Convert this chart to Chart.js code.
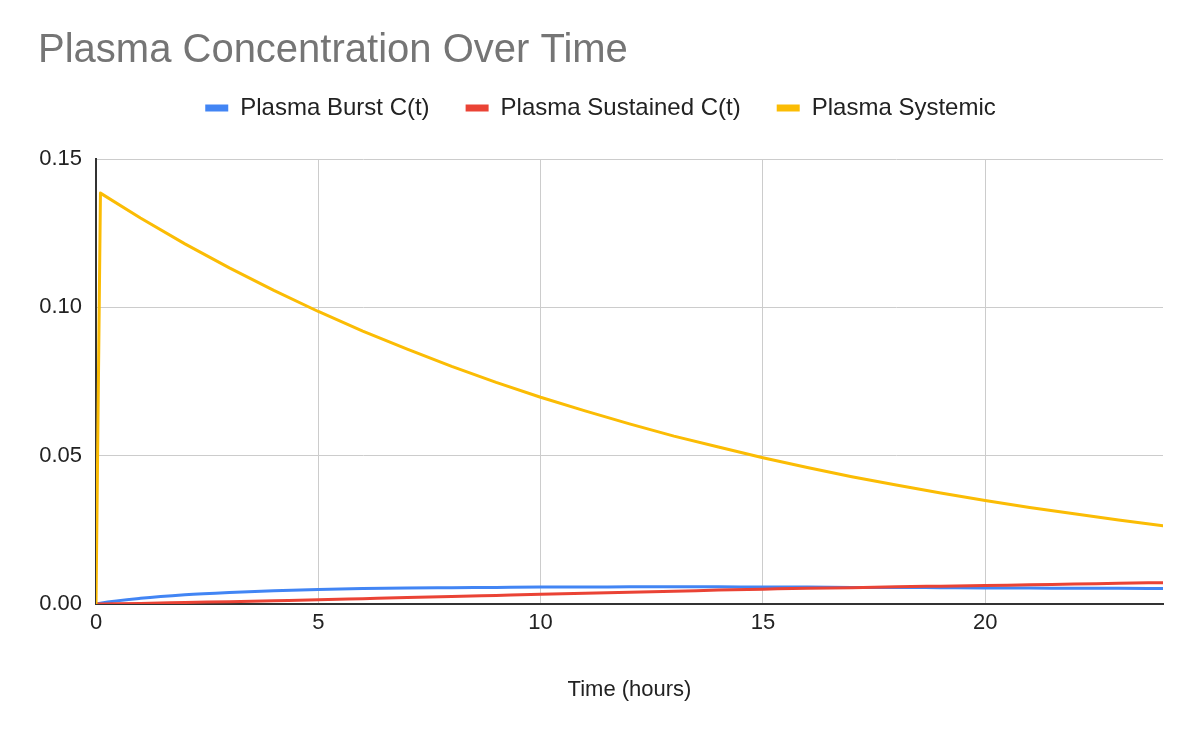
<!DOCTYPE html>
<html>
<head>
<meta charset="utf-8">
<script src="https://cdn.jsdelivr.net/npm/chart.js@4/dist/chart.umd.min.js"></script>
<style>
  html, body { margin: 0; padding: 0; background: #fff; }
  #wrap { width: 1192px; height: 738px; position: relative; }
</style>
</head>
<body>
<div id="wrap"><canvas id="chart"></canvas></div>
<script>
// Time points (hours)
const hours = [0, 0.1, 1, 2, 3, 4, 5, 6, 7, 8, 9, 10, 11, 12, 13, 14, 15, 16, 17, 18, 19, 20, 21, 22, 23, 24];

// Values
const burst = [0, 0.0003, 0.0019, 0.0031, 0.0039, 0.0045, 0.0049, 0.0052, 0.0054, 0.0055, 0.0056, 0.0057, 0.0057,
    0.0058, 0.0058, 0.0058, 0.0057, 0.0057, 0.0056, 0.0056, 0.0055, 0.0054, 0.0054, 0.0053, 0.0053, 0.0052];
const sustained = [0, 0.00002, 0.0002, 0.0005, 0.0008, 0.0011, 0.0014, 0.0018, 0.0022, 0.0025, 0.0029, 0.0033, 0.0036,
    0.0040, 0.0043, 0.0047, 0.0050, 0.0053, 0.0055, 0.0058, 0.0060, 0.0062, 0.0065, 0.0067, 0.0070, 0.0072];
const systemic = [0, 0.1385, 0.1301, 0.1214, 0.1133, 0.1057, 0.0986, 0.0920, 0.0859, 0.0801, 0.0747, 0.0697, 0.0651,
    0.0607, 0.0566, 0.0529, 0.0493, 0.0460, 0.0429, 0.0401, 0.0374, 0.0349, 0.0325, 0.0304, 0.0283, 0.0264];

const seriesNames = ['Plasma Burst C(t)', 'Plasma Sustained C(t)', 'Plasma Systemic'];
const seriesColors = ['#4285f4', '#ea4335', '#fbbc04'];
const yTicks = [0, 0.05, 0.10, 0.15];
const xTicks = [0, 5, 10, 15, 20];

const FONT = "'Liberation Sans', Arial, Helvetica, sans-serif";
Chart.defaults.font.family = FONT;
Chart.defaults.color = '#222';

function toPoints(values) {
    return values.map((v, i) => ({ x: hours[i], y: v }));
}

function makeSet(idx, values, smooth) {
    return {
        label: seriesNames[idx],
        data: toPoints(values),
        borderColor: seriesColors[idx],
        backgroundColor: seriesColors[idx],
        borderWidth: 3,
        pointRadius: 0,
        pointHoverRadius: 0,
        tension: 0,
        cubicInterpolationMode: smooth ? 'monotone' : 'default',
        borderJoinStyle: 'round',
        borderCapStyle: 'round',
        fill: false,
        // later series sit on top, like the original
        order: 2 - idx
    };
}

// legend needs extra room below it
const legendSpace = {
    id: 'legendSpace',
    beforeInit(chart) {
        const fit = chart.legend.fit;
        chart.legend.fit = function () {
            fit.bind(chart.legend)();
            this.height += 29;
        };
    }
};

new Chart(document.getElementById('chart'), {
    type: 'line',
    data: {
        datasets: [makeSet(0, burst, true), makeSet(1, sustained, true), makeSet(2, systemic, false)]
    },
    options: {
        responsive: true,
        maintainAspectRatio: false,
        animation: false,
        layout: { padding: { left: 38, right: 29, top: 0, bottom: 0 } },
        plugins: {
            title: {
                display: true,
                text: 'Plasma Concentration Over Time',
                align: 'start',
                color: '#757575',
                font: { size: 40, weight: 'normal' },
                padding: { top: 27, bottom: -15 }
            },
            legend: {
                position: 'top',
                labels: {
                    boxWidth: 23,
                    boxHeight: 7,
                    padding: 36,
                    color: '#222',
                    font: { size: 24 },
                    generateLabels: chart => Chart.defaults.plugins.legend.labels.generateLabels(chart)
                        .map(item => ({ ...item, lineWidth: 0 })),
                    sort: (a, b) => a.datasetIndex - b.datasetIndex
                }
            },
            tooltip: { enabled: false }
        },
        scales: {
            x: {
                type: 'linear',
                min: 0,
                max: 24,
                afterBuildTicks: s => { s.ticks = xTicks.map(v => ({ value: v })); },
                afterFit: s => { s.height = 134; },
                ticks: { font: { size: 22 }, color: '#222', padding: 6, maxRotation: 0 },
                grid: { color: '#cccccc', lineWidth: 1, drawTicks: false },
                border: { color: '#333333', width: 2 },
                title: {
                    display: true,
                    text: 'Time (hours)',
                    color: '#222',
                    font: { size: 22 },
                    padding: { top: 0, bottom: 35 }
                }
            },
            y: {
                min: 0,
                max: 0.15,
                afterBuildTicks: s => { s.ticks = yTicks.map(v => ({ value: v })); },
                afterFit: s => { s.width = 58; },
                ticks: {
                    font: { size: 22 },
                    color: '#222',
                    padding: 14,
                    callback: v => Number(v).toFixed(2)
                },
                grid: { color: '#cccccc', lineWidth: 1, drawTicks: false },
                border: { color: '#333333', width: 2 }
            }
        }
    },
    plugins: [legendSpace]
});
</script>
</body>
</html>
